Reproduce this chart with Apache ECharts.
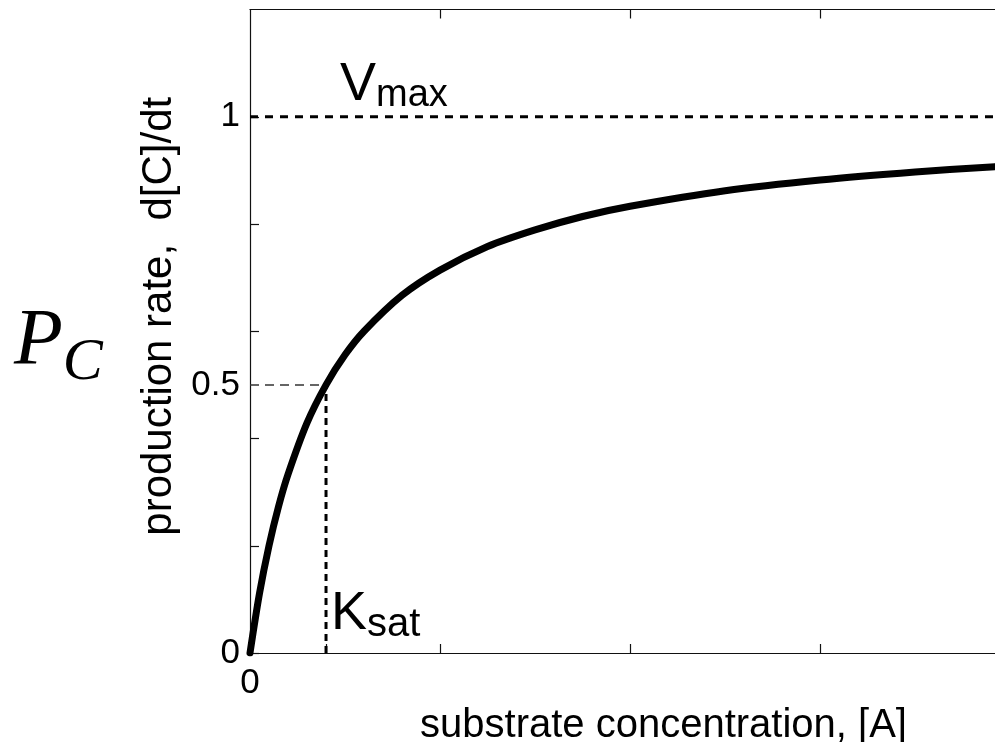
<!DOCTYPE html>
<html>
<head>
<meta charset="utf-8">
<script src="https://cdn.jsdelivr.net/npm/echarts@6/dist/echarts.min.js"></script>
<style>
  html, body { margin: 0; padding: 0; background: #fff; }
  #chart { width: 995px; height: 742px; }
</style>
</head>
<body>
<div id="chart"></div>
<script>
// values
const substrate = [0, 0.05, 0.1, 0.15, 0.2, 0.3, 0.4, 0.5, 0.6, 0.8, 1, 1.25, 1.5, 1.75, 2, 2.5, 3, 3.5, 3.92];
const rate = [0, 0.111, 0.2, 0.273, 0.333, 0.429, 0.5, 0.556, 0.6, 0.667, 0.714, 0.758, 0.789, 0.814, 0.833, 0.862, 0.882, 0.897, 0.907];
const vmax = 1;
const ksat = 0.4;
const xMax = 3.92;
const xTicks = [0, ksat, 1, 2, 3];
const xTopTicks = [1, 2, 3];
const xTickLabels = [0];
const yTicks = [0, 0.2, 0.4, 0.6, 0.8, 1];
const yTickLabels = [0, 0.5, 1];

const font = 'Liberation Sans, Arial, sans-serif';
const chart = echarts.init(document.getElementById('chart'));

const axisColor = '#111';

const option = {
  animation: false,
  grid: { left: 250, right: 0, top: 9.5, bottom: 89, outerBoundsMode: 'none', containLabel: false },
  xAxis: [
    {
      type: 'value', min: 0, max: xMax,
      name: 'substrate concentration, [A]',
      nameLocation: 'middle', nameGap: 33,
      nameTextStyle: { fontFamily: font, fontSize: 40, color: '#000', padding: [0, 0, 0, 82] },
      axisLine: { show: true, onZero: false, lineStyle: { color: axisColor, width: 1.2 } },
      axisTick: { show: true, inside: true, length: 9, customValues: xTicks, lineStyle: { color: axisColor, width: 1.2 } },
      axisLabel: { customValues: xTickLabels, fontFamily: font, fontSize: 35, color: '#000', margin: 13 },
      splitLine: { show: false }
    },
    {
      type: 'value', min: 0, max: xMax, position: 'top',
      axisLine: { show: true, onZero: false, lineStyle: { color: axisColor, width: 1.2 } },
      axisTick: { show: true, inside: true, length: 9, customValues: xTopTicks, lineStyle: { color: axisColor, width: 1.2 } },
      axisLabel: { show: false },
      splitLine: { show: false }
    }
  ],
  yAxis: {
    type: 'value', min: 0, max: 1.2,
    name: 'production rate,  d[C]/dt',
    nameLocation: 'middle', nameGap: 70,
    nameTextStyle: { fontFamily: font, fontSize: 42, color: '#000', padding: [0, 0, 0, 30] },
    axisLine: { show: true, onZero: false, lineStyle: { color: axisColor, width: 1.2 } },
    axisTick: { show: true, inside: true, length: 9, customValues: yTicks, lineStyle: { color: axisColor, width: 1.2 } },
    axisLabel: { customValues: yTickLabels, fontFamily: font, fontSize: 35, color: '#000', margin: 10 },
    splitLine: { show: false }
  },
  series: [
    {
      name: 'Vmax', type: 'line', symbol: 'none', silent: true,
      data: [[0, vmax], [xMax, vmax]],
      lineStyle: { color: '#000', width: 3, type: [8, 7] }
    },
    {
      name: 'half', type: 'line', symbol: 'none', silent: true,
      data: [[0, vmax / 2], [ksat, vmax / 2]],
      lineStyle: { color: '#333', width: 1.5, type: [9, 6] }
    },
    {
      name: 'Ksat', type: 'line', symbol: 'none', silent: true,
      data: [[ksat, 0], [ksat, vmax / 2]],
      lineStyle: { color: '#000', width: 3, type: [7, 5] }
    },
    {
      name: 'rate', type: 'line', symbol: 'none', smooth: 0.3, silent: true,
      data: substrate.map((s, i) => [s, rate[i]]),
      lineStyle: { color: '#000', width: 7, cap: 'round' },
      z: 5
    }
  ],
  graphic: [
    {
      type: 'text', left: 340, top: 58,
      style: {
        text: '{a|V}{b|max}',
        rich: {
          a: { fontFamily: font, fontSize: 54, fill: '#000' },
          b: { fontFamily: font, fontSize: 38, fill: '#000', padding: [22, 0, 0, 0] }
        }
      }
    },
    {
      type: 'text', left: 331, top: 587,
      style: {
        text: '{a|K}{b|sat}',
        rich: {
          a: { fontFamily: font, fontSize: 54, fill: '#000' },
          b: { fontFamily: font, fontSize: 40, fill: '#000', padding: [22, 0, 0, 0] }
        }
      }
    },
    {
      type: 'text', left: 14, top: 303,
      style: {
        text: '{a|P}{b|C}',
        rich: {
          a: { fontFamily: 'Liberation Serif, serif', fontStyle: 'italic', fontSize: 80, fill: '#000' },
          b: { fontFamily: 'Liberation Serif, serif', fontStyle: 'italic', fontSize: 60, fill: '#000', padding: [40, 0, 0, 0] }
        }
      }
    }
  ]
};

chart.setOption(option);
</script>
</body>
</html>
